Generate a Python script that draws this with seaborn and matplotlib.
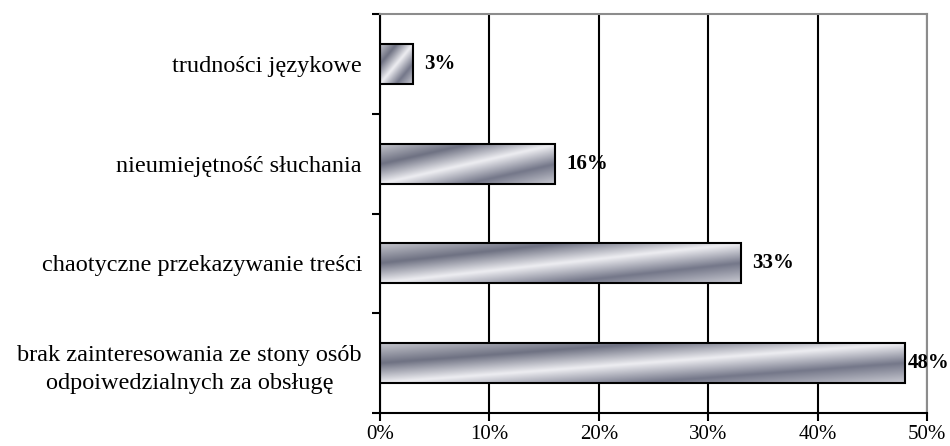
import numpy as np
import pandas as pd
import matplotlib
matplotlib.use('Agg')
import matplotlib.pyplot as plt
from matplotlib.colors import LinearSegmentedColormap
import seaborn as sns

categories = ['trudności językowe',
              'nieumiejętność słuchania',
              'chaotyczne przekazywanie treści',
              'brak zainteresowania ze stony osób\nodpoiwedzialnych za obsługę']
values = [3, 16, 33, 48]
xticks = [0, 10, 20, 30, 40, 50]

df = pd.DataFrame({'cat': categories, 'val': values})

sns.set_style('white')
plt.rcParams['font.family'] = ['Liberation Serif', 'DejaVu Serif']
plt.rcParams['text.color'] = 'black'
plt.rcParams['xtick.color'] = 'black'
plt.rcParams['ytick.color'] = 'black'

fig = plt.figure(figsize=(9.5, 4.46), dpi=100)
ax = fig.add_axes([0.4, 0.074, 0.5758, 0.8946])

sns.barplot(data=df, x='val', y='cat', orient='h', width=0.4,
            color='#b0b2bc', edgecolor='black', linewidth=1.5, ax=ax, zorder=3)

# metallic gradient inside each bar
metal = LinearSegmentedColormap.from_list('metal', [
    (0.0, '#c4c5cc'), (0.25, '#6e7182'), (0.5, '#eeeef2'),
    (0.75, '#747789'), (1.0, '#c8c9d1')])
u, v = np.meshgrid(np.linspace(0, 1, 200), np.linspace(1, 0, 60))
grad = (u - v + 1) / 2
for p in ax.patches:
    x0, y0 = p.get_x(), p.get_y()
    w, h = p.get_width(), p.get_height()
    p.set_facecolor('none')
    im = ax.imshow(grad, cmap=metal, extent=[x0, x0 + w, y0 + h, y0],
                   aspect='auto', interpolation='bicubic', zorder=2.5)
    im.set_clip_path(p)

for i, val in enumerate(values):
    gap = 2 if val > 45 else 8
    ax.annotate(f'{val}%', (val, i), xytext=(gap, 0), textcoords='offset points',
                ha='left', va='center', fontsize=15, fontweight='bold')

ax.set_xlim(0, 50)
ax.set_ylim(3.5, -0.5)
ax.set_xticks(xticks)
ax.set_xticklabels([f'{t}%' for t in xticks], fontsize=15)
ax.set_yticks(range(len(categories)))
ax.set_yticklabels(categories, fontsize=17.5, multialignment='center', linespacing=1.45)
ax.set_yticks(np.arange(-0.5, 4, 1), minor=True)
ax.tick_params(axis='y', which='major', length=0, pad=13)
ax.tick_params(axis='y', which='minor', length=6, width=1.5, color='black', direction='out', left=True)
ax.tick_params(axis='x', length=6, width=1.5, color='black', direction='out', bottom=True, pad=3)
ax.set_xlabel('')
ax.set_ylabel('')

ax.xaxis.grid(True, color='black', linewidth=1.5, zorder=1)
ax.set_axisbelow(True)
for s in ['left', 'bottom']:
    ax.spines[s].set_color('black')
    ax.spines[s].set_linewidth(1.5)
for s in ['top', 'right']:
    ax.spines[s].set_color('#8c8c8c')
    ax.spines[s].set_linewidth(1.5)

fig.savefig('out.png', dpi=100, facecolor='white')
